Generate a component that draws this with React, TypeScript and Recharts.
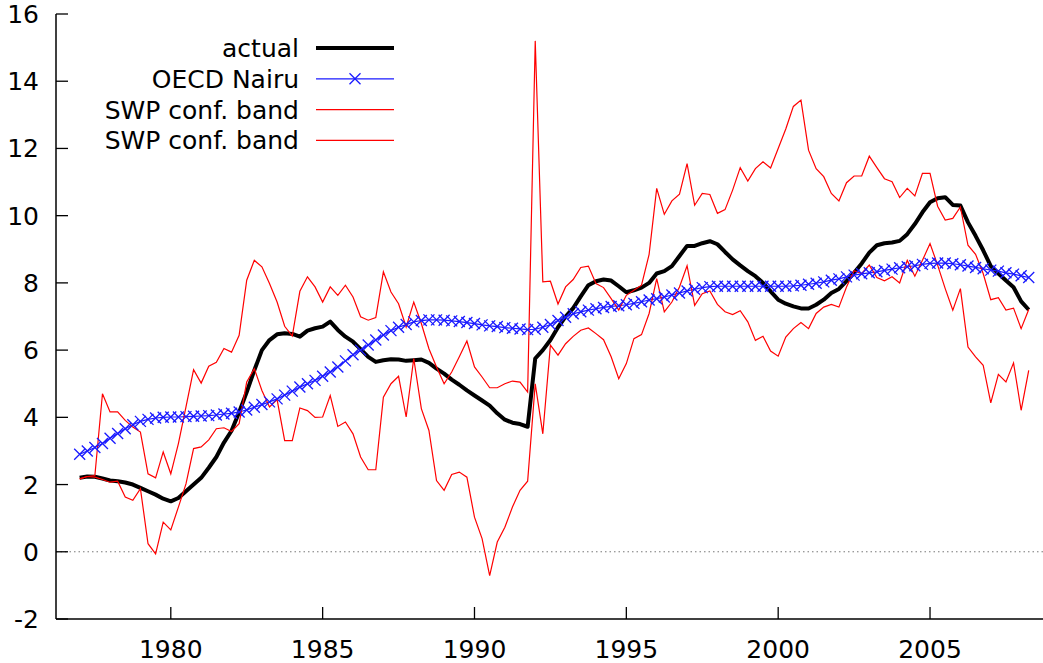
import React from 'react';
import { LineChart, Line, XAxis, YAxis, ReferenceLine, Legend } from 'recharts';

// quarterly observations, first one is 1977Q1
const startYear = 1977;

const xTicks = [1980, 1985, 1990, 1995, 2000, 2005];
const yTicks = [-2, 0, 2, 4, 6, 8, 10, 12, 14, 16];

const actual = [
  2.2, 2.24, 2.23, 2.18, 2.12, 2.1, 2.06, 2.0, 1.9, 1.8, 1.7, 1.58,
  1.5, 1.6, 1.8, 2.0, 2.2, 2.5, 2.82, 3.25, 3.6, 4.15, 4.75, 5.4,
  6.0, 6.3, 6.47, 6.5, 6.48, 6.4, 6.58, 6.65, 6.7, 6.85, 6.6, 6.4,
  6.25, 6.03, 5.8, 5.65, 5.7, 5.73, 5.72, 5.68, 5.7, 5.72, 5.62, 5.45,
  5.3, 5.12, 4.97, 4.8, 4.65, 4.5, 4.35, 4.12, 3.93, 3.84, 3.8, 3.72,
  5.75, 6.0, 6.3, 6.68, 7.0, 7.25, 7.6, 7.93, 8.05, 8.1, 8.07, 7.9,
  7.72, 7.78, 7.86, 8.0, 8.28, 8.35, 8.5, 8.8, 9.1, 9.1, 9.18, 9.24,
  9.15, 8.92, 8.7, 8.52, 8.35, 8.2, 8.0, 7.75, 7.5, 7.38, 7.3, 7.24,
  7.24, 7.35, 7.5, 7.7, 7.82, 8.05, 8.3, 8.58, 8.9, 9.12, 9.18, 9.2,
  9.25, 9.45, 9.75, 10.1, 10.4, 10.52, 10.55, 10.32, 10.3, 9.8, 9.4, 8.97,
  8.5, 8.28, 8.07, 7.87, 7.45, 7.2,
];

const nairu = [
  2.9, 3.0, 3.1, 3.22, 3.38, 3.52, 3.66, 3.78, 3.88, 3.94, 3.98, 4.0,
  4.01, 4.01, 4.02, 4.03, 4.04, 4.05, 4.07, 4.1, 4.12, 4.16, 4.22, 4.3,
  4.38, 4.46, 4.55, 4.66, 4.78, 4.9, 5.0, 5.1, 5.22, 5.35, 5.5, 5.68,
  5.86, 6.0, 6.15, 6.3, 6.45, 6.58, 6.68, 6.76, 6.84, 6.88, 6.9, 6.9,
  6.89, 6.87, 6.85, 6.82, 6.79, 6.75, 6.72, 6.7, 6.67, 6.65, 6.63, 6.61,
  6.62, 6.68, 6.76, 6.88, 6.98, 7.08, 7.14, 7.19, 7.23, 7.27, 7.3, 7.32,
  7.35, 7.39, 7.44, 7.49, 7.53, 7.58, 7.64, 7.7, 7.76, 7.81, 7.86, 7.89,
  7.9, 7.9, 7.9, 7.9, 7.9, 7.9, 7.9, 7.9, 7.9, 7.9, 7.91, 7.93,
  7.96, 7.99, 8.03, 8.08, 8.12, 8.18, 8.23, 8.27, 8.3, 8.33, 8.37, 8.41,
  8.45, 8.48, 8.51, 8.55, 8.58, 8.59, 8.59, 8.57, 8.54, 8.5, 8.46, 8.42,
  8.38, 8.35, 8.3, 8.26, 8.21, 8.16,
];

const swpUpper = [
  2.17, 2.24, 2.27, 4.7, 4.16, 4.16, 3.91, 3.71, 3.56, 2.32, 2.2, 2.97,
  2.32, 3.22, 4.31, 5.42, 5.02, 5.52, 5.64, 6.05, 5.94, 6.44, 8.08, 8.67,
  8.48, 7.98, 7.43, 6.71, 6.42, 7.75, 8.18, 7.88, 7.43, 7.88, 7.63, 7.93,
  7.58, 6.99, 6.89, 6.97, 8.33, 7.73, 7.38, 6.69, 7.43, 6.79, 6.04, 5.5,
  5.0, 5.35, 5.8, 6.27, 5.5, 5.2, 4.88, 4.88, 5.0, 5.08, 5.05, 4.75,
  15.2, 8.03, 8.05, 7.37, 7.88, 8.1, 8.46, 8.5, 7.98, 7.86, 7.53, 7.19,
  7.63, 7.78, 7.93, 8.85, 10.81, 10.04, 10.44, 10.64, 11.55, 10.31, 10.66, 10.63,
  10.07, 10.18, 10.76, 11.43, 11.03, 11.4, 11.6, 11.42, 12.0, 12.58, 13.25, 13.44,
  11.95, 11.4, 11.16, 10.66, 10.44, 10.98, 11.18, 11.18, 11.77, 11.43, 11.1, 11.01,
  10.54, 10.81, 10.59, 11.26, 11.26, 10.28, 9.87, 9.92, 10.26, 9.12, 8.85, 8.28,
  7.5, 7.56, 7.19, 7.25, 6.64, 7.21,
];

const swpLower = [
  2.17, 2.24, 2.22, 2.15, 2.07, 2.1, 1.63, 1.53, 1.88, 0.24, -0.06, 0.88,
  0.65, 1.33, 2.02, 3.07, 3.12, 3.33, 3.66, 3.69, 3.58, 3.81, 5.05, 5.45,
  4.8, 4.31, 4.53, 3.31, 3.31, 4.28, 4.2, 4.0, 4.01, 4.65, 3.73, 3.86,
  3.51, 2.82, 2.44, 2.44, 4.6, 5.0, 5.22, 4.01, 5.75, 4.26, 3.61, 2.12,
  1.83, 2.3, 2.37, 2.22, 1.03, 0.39, -0.71, 0.29, 0.73, 1.33, 1.83, 2.1,
  5.0, 3.51, 6.15, 5.85, 6.19, 6.41, 6.59, 6.66, 6.49, 6.31, 5.8, 5.15,
  5.6, 6.34, 6.46, 7.09, 8.13, 7.14, 7.43, 7.88, 8.51, 7.33, 7.68, 7.76,
  7.36, 7.14, 7.06, 7.17, 6.84, 6.29, 6.41, 5.97, 5.82, 6.39, 6.64, 6.82,
  6.64, 7.09, 7.28, 7.36, 7.28, 7.88, 8.36, 8.28, 8.53, 8.16, 8.06, 8.18,
  8.0, 8.67, 8.2, 8.67, 9.17, 8.53, 7.83, 7.19, 7.83, 6.09, 5.8, 5.55,
  4.43, 5.28, 5.05, 5.62, 4.21, 5.4,
];

const data = actual.map((v, i) => ({
  t: startYear + i / 4,
  actual: v,
  nairu: nairu[i],
  upper: swpUpper[i],
  lower: swpLower[i],
}));

const BLUE = '#1a1aff';
const RED = '#ff0000';
const FONT = '"DejaVu Sans", Verdana, sans-serif';
const X_DOMAIN: [number, number] = [1976.22, 2008.72];
const Y_DOMAIN: [number, number] = [-2, 16];
const TICK_LEN = 12; // gnuplot style inward ticks
const X_LABEL_GAP = 21;
const Y_LABEL_GAP = 17;

const crossPath = (cx: number, cy: number, s: number) =>
  `M${cx - s},${cy - s}L${cx + s},${cy + s}M${cx - s},${cy + s}L${cx + s},${cy - s}`;

const Cross = (props: any) => {
  const { cx, cy, index } = props;
  if (cx == null || cy == null) return <g key={`c-${index}`} />;
  return (
    <path key={`c-${index}`} d={crossPath(cx, cy, 5.5)} stroke={BLUE} strokeWidth={1.3} fill="none" />
  );
};

// ticks: the mark is drawn inside the frame, the label outside
const BottomTick = ({ x, y, payload }: any) => {
  const axisY = y - X_LABEL_GAP;
  return (
    <g>
      <line x1={x} x2={x} y1={axisY - TICK_LEN} y2={axisY} stroke="#000" strokeWidth={1.3} />
      <text x={x} y={y} dy="0.71em" textAnchor="middle" fontFamily={FONT} fontSize={25} fill="#000">
        {payload.value}
      </text>
    </g>
  );
};

const LeftTick = ({ x, y, payload }: any) => {
  const axisX = x + Y_LABEL_GAP;
  return (
    <g>
      <line x1={axisX} x2={axisX + TICK_LEN} y1={y} y2={y} stroke="#000" strokeWidth={1.3} />
      <text x={x} y={y} dy="0.36em" textAnchor="end" fontFamily={FONT} fontSize={25} fill="#000">
        {payload.value}
      </text>
    </g>
  );
};

const TopTick = ({ x, y }: any) => (
  <line x1={x} x2={x} y1={y} y2={y + TICK_LEN} stroke="#000" strokeWidth={1.3} />
);

const RightTick = ({ x, y }: any) => (
  <line x1={x} x2={x - TICK_LEN} y1={y} y2={y} stroke="#000" strokeWidth={1.3} />
);

const legendItems = [
  { label: 'actual', color: '#000', width: 4, cross: false },
  { label: 'OECD Nairu', color: BLUE, width: 1.2, cross: true },
  { label: 'SWP conf. band', color: RED, width: 1.2, cross: false },
  { label: 'SWP conf. band', color: RED, width: 1.2, cross: false },
];

const ChartLegend = () => (
  <svg width={400} height={160} style={{ display: 'block' }}>
    {legendItems.map((item, k) => {
      const y = 48 + k * 30.8;
      return (
        <g key={k}>
          <text x={299} y={y} dy="0.36em" textAnchor="end" fontFamily={FONT} fontSize={25} fill="#000">
            {item.label}
          </text>
          <line x1={316} x2={394} y1={y} y2={y} stroke={item.color} strokeWidth={item.width} />
          {item.cross && (
            <path d={crossPath(355, y, 5.5)} stroke={item.color} strokeWidth={1.3} fill="none" />
          )}
        </g>
      );
    })}
  </svg>
);

const frame = { stroke: '#000', strokeWidth: 1.5 };

export default function App() {
  return (
    <div style={{ position: 'absolute', left: 0, top: 0, width: 1043, height: 663, background: '#fff' }}>
      <LineChart width={1043} height={663} data={data} margin={{ top: 14, right: 0, bottom: 0, left: 0 }}>
        <XAxis
          dataKey="t"
          type="number"
          domain={X_DOMAIN}
          allowDataOverflow
          ticks={xTicks}
          interval={0}
          height={44}
          tickSize={0}
          tickMargin={X_LABEL_GAP}
          tick={BottomTick}
          tickLine={false}
          axisLine={frame}
        />
        <XAxis
          xAxisId="top"
          orientation="top"
          dataKey="t"
          type="number"
          domain={X_DOMAIN}
          allowDataOverflow
          ticks={xTicks}
          interval={0}
          height={0}
          tickSize={0}
          tickMargin={0}
          tick={TopTick}
          tickLine={false}
          axisLine={frame}
        />
        <YAxis
          type="number"
          domain={Y_DOMAIN}
          allowDataOverflow
          ticks={yTicks}
          interval={0}
          width={56}
          tickSize={0}
          tickMargin={Y_LABEL_GAP}
          tick={LeftTick}
          tickLine={false}
          axisLine={frame}
        />
        <YAxis
          yAxisId="right"
          orientation="right"
          type="number"
          domain={Y_DOMAIN}
          allowDataOverflow
          ticks={yTicks}
          interval={0}
          width={0}
          tickSize={0}
          tickMargin={0}
          tick={RightTick}
          tickLine={false}
          axisLine={false}
        />
        <ReferenceLine y={0} stroke="#777" strokeWidth={1} strokeDasharray="1.5 3" />
        <Legend
          content={ChartLegend}
          layout="vertical"
          align="center"
          verticalAlign="middle"
          wrapperStyle={{ left: 0, top: 0, width: 400, height: 160 }}
        />
        <Line
          type="linear"
          dataKey="actual"
          stroke="#000"
          strokeWidth={4}
          strokeLinejoin="round"
          dot={false}
          isAnimationActive={false}
        />
        <Line
          type="linear"
          dataKey="nairu"
          stroke={BLUE}
          strokeWidth={1.2}
          dot={Cross}
          isAnimationActive={false}
        />
        <Line
          type="linear"
          dataKey="upper"
          stroke={RED}
          strokeWidth={1.2}
          dot={false}
          isAnimationActive={false}
        />
        <Line
          type="linear"
          dataKey="lower"
          stroke={RED}
          strokeWidth={1.2}
          dot={false}
          isAnimationActive={false}
        />
      </LineChart>
    </div>
  );
}
